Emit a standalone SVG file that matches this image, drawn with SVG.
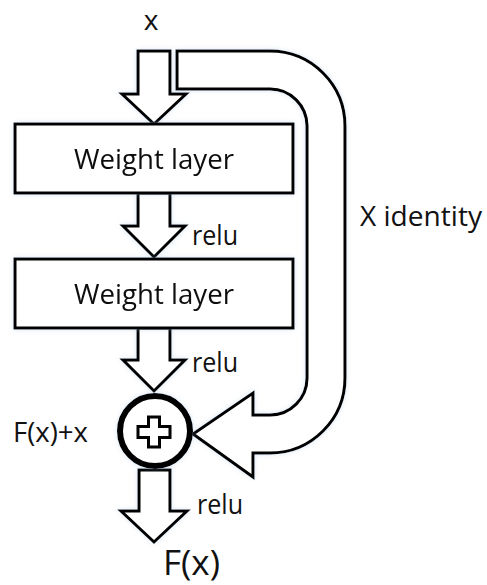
<svg xmlns="http://www.w3.org/2000/svg" width="487" height="585" viewBox="0 0 487 585">
<style>
.o{fill:#fff;stroke:#000;stroke-width:3;stroke-linejoin:miter}
.t{font-family:"Open Sans","Liberation Sans",sans-serif;font-size:28px;fill:#111}
</style>
<defs>
<filter id="g" x="-20%" y="-20%" width="140%" height="140%">
<feGaussianBlur in="SourceAlpha" stdDeviation="2.5" result="b"/>
<feFlood flood-color="#9ab8d8" flood-opacity="0.35"/>
<feComposite in2="b" operator="in" result="s"/>
<feMerge><feMergeNode in="s"/><feMergeNode in="SourceGraphic"/></feMerge>
</filter>
</defs>
<rect width="487" height="585" fill="#fff"/>
<g id="connectors" filter="url(#g)">
<path id="identity" class="o" d="M177,51 H270 A75,75 0 0 1 345,126 V378 A75,75 0 0 1 270,453 H253 V477 L193,434 L253,393 V415 H270 A37,37 0 0 0 307,378 V126 A37,37 0 0 0 270,89 H177 Z"/>
<path id="a1" class="o" d="M138,51 H170 V94 H186 L154,124 L122,94 H138 Z"/>
<path id="a2" class="o" d="M138,193 H170 V226 H185 L154,257 L123,226 H138 Z"/>
<path id="a3" class="o" d="M138,328 H170 V360 H185 L154,391 L123,360 H138 Z"/>
<path id="a4" class="o" d="M139,470 H170 V511 H187 L154,542 L121,511 H139 Z"/>
</g>
<g id="box1" filter="url(#g)">
<rect class="o" x="15" y="124" width="278" height="69"/>
<text class="t" x="154" y="169" text-anchor="middle" textLength="160" lengthAdjust="spacingAndGlyphs">Weight layer</text>
</g>
<g id="box2" filter="url(#g)">
<rect class="o" x="15" y="259" width="278" height="69"/>
<text class="t" x="154" y="304" text-anchor="middle" textLength="160" lengthAdjust="spacingAndGlyphs">Weight layer</text>
</g>
<g id="sum" filter="url(#g)">
<circle cx="155" cy="431" r="35" fill="#fff" stroke="#000" stroke-width="6"/>
<path class="o" d="M148.5,417 H159.5 V426.5 H170 V437.5 H159.5 V447 H148.5 V437.5 H138 V426.5 H148.5 Z"/>
</g>
<g id="labels">
<text class="t" x="151" y="30" text-anchor="middle">x</text>
<text class="t" x="192" y="245" textLength="46" lengthAdjust="spacingAndGlyphs">relu</text>
<text class="t" x="192" y="372" textLength="46" lengthAdjust="spacingAndGlyphs">relu</text>
<text class="t" x="197" y="514" textLength="46" lengthAdjust="spacingAndGlyphs">relu</text>
<text class="t" x="360" y="226" textLength="122" lengthAdjust="spacingAndGlyphs">X identity</text>
<text class="t" x="13" y="442" textLength="75" lengthAdjust="spacingAndGlyphs">F(x)+x</text>
<text class="t" x="163" y="575" style="font-size:34px" textLength="57" lengthAdjust="spacingAndGlyphs">F(x)</text>
</g>
</svg>
